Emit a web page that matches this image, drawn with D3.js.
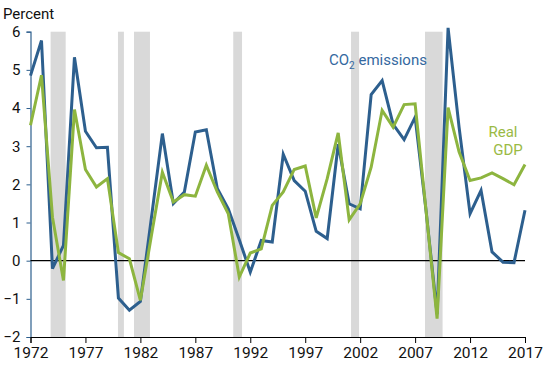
<!DOCTYPE html>
<html>
<head>
<meta charset="utf-8">
<script src="https://cdnjs.cloudflare.com/ajax/libs/d3/7.8.5/d3.min.js"></script>
<style>
  body { margin: 0; background: #fff; }
  text { font-family: Roboto, "Noto Sans", sans-serif; }
</style>
</head>
<body>
<script>
// annual data, percent change
const years = [1972,1973,1974,1975,1976,1977,1978,1979,1980,1981,
               1982,1983,1984,1985,1986,1987,1988,1989,1990,1991,
               1992,1993,1994,1995,1996,1997,1998,1999,2000,2001,
               2002,2003,2004,2005,2006,2007,2008,2009,2010,2011,
               2012,2013,2014,2015,2016,2017];

const co2 = [4.85,5.77,-0.21,0.40,5.33,3.39,2.96,2.97,-0.98,-1.30,
             -1.07,1.12,3.33,1.50,1.80,3.37,3.43,1.89,1.36,0.55,
             -0.30,0.53,0.49,2.79,2.10,1.82,0.77,0.58,3.05,1.49,
             1.36,4.35,4.72,3.57,3.17,3.76,1.30,-1.40,6.10,3.50,
             1.23,1.84,0.23,-0.04,-0.05,1.32];

const gdp = [3.55,4.86,1.14,-0.52,3.96,2.39,1.93,2.15,0.21,0.05,
             -1.04,0.65,2.32,1.54,1.73,1.69,2.50,1.80,1.23,-0.43,
             0.20,0.31,1.45,1.80,2.39,2.48,1.12,2.15,3.35,1.07,
             1.49,2.45,3.94,3.50,4.09,4.11,1.30,-1.52,4.01,2.85,
             2.10,2.17,2.30,2.15,1.99,2.52];

// recession periods (start, end) in fractional years
const recessions = [[1973.83,1975.2],[1979.96,1980.5],[1981.42,1982.87],
                    [1990.45,1991.25],[2001.17,2001.9],[2007.9,2009.5]];

const xTicks = [1972,1977,1982,1987,1992,1997,2002,2007,2012,2017];
const yTicks = [-2,-1,0,1,2,3,4,5,6];

const blue = '#2d5f8e';
const green = '#8db53f';

const svg = d3.select('body')
    .append('svg')
    .attr('width',550)
    .attr('height',365);

const x = d3.scaleLinear().domain([1972,2017]).range([30.5,525]);
const y = d3.scaleLinear().domain([-2,6]).range([337,31.7]);

// recession bands
svg.append('g').selectAll('rect')
    .data(recessions)
    .enter().append('rect')
    .attr('x', d => x(d[0]))
    .attr('width', d => x(d[1]) - x(d[0]))
    .attr('y', y(6))
    .attr('height', y(-2) - y(6))
    .attr('fill','#d9d9d9');

// y axis
const yAxis = svg.append('g')
    .attr('transform','translate(' + x(1972) + ',0)')
    .call(d3.axisLeft(y).tickValues(yTicks).tickSize(4).tickPadding(6).tickFormat(d3.format('d')));
yAxis.select('.domain').attr('stroke',blue).attr('stroke-width',1.2);
yAxis.selectAll('.tick line').attr('stroke',blue);
yAxis.selectAll('text')
    .attr('font-size','15px')
    .attr('fill','#111')
    .style('font-family','Roboto');

// x axis
const xAxis = svg.append('g')
    .attr('transform','translate(0,' + y(-2) + ')')
    .call(d3.axisBottom(x).tickValues(xTicks).tickSize(6).tickPadding(4).tickFormat(d3.format('d')));
xAxis.select('.domain').attr('stroke','#000');
xAxis.selectAll('text')
    .attr('font-size','15.5px')
    .attr('fill','#111')
    .style('font-family','Roboto');

// zero line
svg.append('line')
    .attr('x1', x(1972))
    .attr('x2', x(2017))
    .attr('y1', y(0))
    .attr('y2', y(0))
    .attr('stroke','black')
    .attr('stroke-width',1.2);

const line = d3.line()
    .x((d,i) => x(years[i]))
    .y(d => y(d));

svg.append('path')
    .datum(co2)
    .attr('d', line)
    .attr('fill','none')
    .attr('stroke',blue)
    .attr('stroke-width',3)
    .attr('stroke-linejoin','miter');

svg.append('path')
    .datum(gdp)
    .attr('d', line)
    .attr('fill','none')
    .attr('stroke',green)
    .attr('stroke-width',3)
    .attr('stroke-linejoin','miter');

// labels
svg.append('text')
    .attr('x',3)
    .attr('y',19)
    .attr('font-size','15px')
    .attr('fill','#111')
    .text('Percent');

const co2Label = svg.append('text')
    .attr('x',329)
    .attr('y',65)
    .attr('font-size','15px')
    .attr('fill','#3468a0');
co2Label.append('tspan').text('CO');
co2Label.append('tspan').attr('font-size','10px').attr('dy',4).text('2');
co2Label.append('tspan').attr('dy',-4).text(' emissions');

svg.append('text')
    .attr('x',503)
    .attr('y',137)
    .attr('text-anchor','middle')
    .attr('font-size','15px')
    .attr('fill','#9aba45')
    .text('Real');

svg.append('text')
    .attr('x',508)
    .attr('y',155)
    .attr('text-anchor','middle')
    .attr('font-size','15px')
    .attr('fill','#9aba45')
    .text('GDP');
</script>
</body>
</html>
